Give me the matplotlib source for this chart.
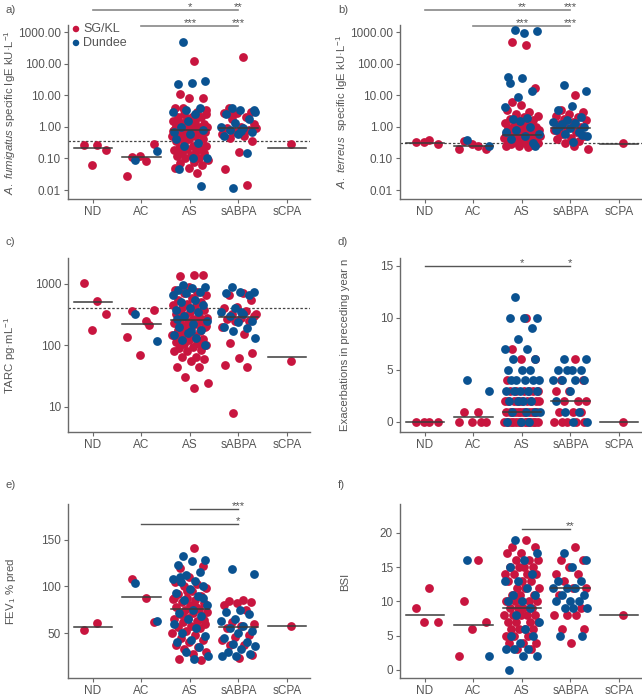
import matplotlib
matplotlib.use("Agg")
import matplotlib.pyplot as plt
import numpy as np

plt.rcParams['font.family'] = ['Liberation Sans', 'DejaVu Sans']
plt.rcParams['mathtext.fontset'] = 'custom'
plt.rcParams['mathtext.rm'] = 'Liberation Sans'
plt.rcParams['mathtext.it'] = 'Liberation Sans:italic'

RED = '#C8153F'
BLUE = '#0A5291'
TXT = '#555555'
AX = '#6a6a6a'
FS = 8.2

categories = ['ND', 'AC', 'AS', 'sABPA', 'sCPA']

# ---- a) A. fumigatus specific IgE ----
a_red = [
    [0.26, 0.26, 0.18, 0.06],
    [0.085, 0.11, 0.28, 0.12, 0.027],
    [120, 11, 8, 8, 4, 3, 2.5, 2.5, 2, 2, 2, 1.8, 1.5, 1.5, 1.3, 1.2, 1.2, 1.1, 1, 1, 1, 0.9, 0.9,
     0.8, 0.8, 0.8, 0.7, 0.7, 0.7, 0.6, 0.6, 0.6, 0.5, 0.5, 0.5, 0.45, 0.4, 0.4, 0.35, 0.3, 0.3,
     0.25, 0.25, 0.22, 0.2, 0.2, 0.18, 0.17, 0.15, 0.15, 0.13, 0.12, 0.1, 0.1, 0.09, 0.08, 0.07,
     0.06, 0.05, 0.05, 0.035, 4, 3.5, 1.7, 1.4, 0.95, 0.85, 0.75, 0.65, 0.55],
    [160, 4, 3, 2.8, 2.7, 2, 1.8, 1.2, 1, 0.9, 0.8, 0.7, 0.6, 0.5, 0.45, 0.35, 0.16, 0.045, 0.014, 2.5, 0.95],
    [0.28],
]
a_blue = [
    [],
    [0.09, 0.17],
    [500, 28, 25, 23, 4, 3.5, 3, 2.5, 1, 0.8, 0.6, 0.4, 0.3, 0.25, 0.1, 0.1, 0.045, 0.013, 1.5, 0.7],
    [4, 3.5, 3.5, 2.5, 1.8, 1.3, 1, 0.9, 0.8, 0.7, 0.6, 0.5, 0.15, 0.012, 3, 0.75],
    [],
]
a_median = [0.22, 0.11, 0.8, 0.9, 0.22]

# ---- b) A. terreus specific IgE ----
b_red = [
    [0.38, 0.33, 0.28, 0.33],
    [0.25, 0.36, 0.2, 0.28, 0.2],
    [400, 500, 17, 5, 3.5, 3, 2.5, 2.2, 2, 1.8, 1.6, 1.5, 1.3, 1.2, 1.1, 1, 1, 0.95, 0.9, 0.85, 0.8,
     0.75, 0.7, 0.7, 0.65, 0.6, 0.6, 0.55, 0.55, 0.5, 0.5, 0.48, 0.45, 0.45, 0.42, 0.4, 0.4, 0.38,
     0.35, 0.35, 0.33, 0.3, 0.3, 0.28, 0.27, 0.25, 0.25, 0.23, 0.6, 0.7, 0.8, 0.9, 1.0, 1.4, 0.5, 0.4, 6],
    [10, 3.5, 3, 2.5, 2.2, 2, 1.8, 1.6, 1.4, 1.2, 1, 0.9, 0.8, 0.7, 0.6, 0.5, 0.45, 0.4, 0.35, 0.3, 0.2, 0.25, 0.65],
    [0.31],
]
b_blue = [
    [],
    [0.38, 0.25],
    [1200, 1100, 950, 25, 14, 9, 4.3, 1.9, 1.8, 0.24, 35, 38, 1, 0.8, 0.6, 0.5, 0.4, 0.3, 1.5, 0.7],
    [22, 14, 4.5, 3.5, 2, 1.6, 1.4, 1.3, 1.2, 1, 0.9, 0.8, 0.7, 0.6, 0.5, 0.33, 1.1, 0.55],
    [],
]
b_median = [0.31, 0.24, 0.55, 0.9, 0.28]

# ---- c) TARC ----
c_red = [
    [530, 1020, 330, 180],
    [250, 360, 380, 70, 135, 215],
    [1400, 1350, 1380, 900, 800, 750, 700, 650, 600, 550, 500, 480, 450, 420, 400, 380, 350, 330,
     300, 300, 280, 270, 260, 250, 240, 230, 220, 210, 200, 190, 180, 170, 160, 150, 140, 130, 125,
     120, 115, 110, 105, 100, 95, 90, 85, 80, 80, 65, 65, 60, 55, 45, 45, 30, 24, 20, 350, 260, 180,
     140, 110, 160, 210],
    [700, 650, 550, 420, 400, 360, 330, 300, 280, 270, 250, 250, 200, 155, 110, 75, 62, 47, 45, 8, 320],
    [55],
]
c_blue = [
    [],
    [330, 118],
    [950, 900, 850, 800, 750, 700, 650, 550, 500, 450, 400, 380, 350, 300, 250, 220, 200, 180, 160,
     150, 130, 120, 100, 170, 270],
    [900, 750, 740, 700, 650, 400, 350, 330, 300, 250, 240, 200, 190, 170, 130, 350],
    [],
]
c_median = [500, 220, 260, 285, 65]

# ---- d) Exacerbations ----
d_red = [
    [0, 0, 0, 0],
    [1, 1, 0, 0, 0, 0],
    [10, 7, 6, 6, 4, 3, 3, 3, 3, 3, 3, 2, 2, 2, 2, 2, 2, 2, 2, 2, 2, 1, 1, 1, 1, 1, 1, 1, 1, 1, 1,
     1, 1, 0, 0, 0, 0, 0, 0, 0, 0, 0, 0, 0, 0, 0],
    [6, 4, 4, 3, 3, 2, 2, 2, 1, 1, 1, 0, 0, 0, 0, 0],
    [0],
]
d_blue = [
    [],
    [4, 3],
    [12, 10, 10, 10, 9, 8, 7, 7, 6, 6, 5, 5, 5, 4, 4, 4, 4, 4, 3, 3, 3, 3, 3, 2, 2, 2, 2, 1, 1, 1,
     1, 0, 0, 0],
    [6, 6, 5, 5, 5, 5, 4, 4, 4, 4, 3, 2, 1, 1, 0, 0],
    [],
]
d_median = [0, 0.5, 1, 2, 0]

# ---- e) FEV1 % pred ----
e_red = [
    [61, 53],
    [87, 108, 62],
    [141, 120, 122, 110, 105, 102, 100, 98, 95, 92, 90, 88, 86, 85, 83, 82, 80, 78, 76, 75, 73, 72,
     70, 68, 66, 65, 63, 62, 60, 58, 56, 55, 52, 50, 48, 45, 43, 40, 37, 35, 33, 30, 28, 22, 21,
     95, 88, 78, 70, 64],
    [85, 84, 83, 82, 80, 75, 62, 60, 58, 55, 48, 46, 43, 37, 37, 27, 23],
    [58],
]
e_blue = [
    [],
    [104, 63],
    [132, 128, 127, 123, 115, 112, 108, 106, 105, 100, 97, 93, 90, 85, 80, 75, 72, 68, 65, 60, 55,
     50, 47, 43, 40, 35, 30, 25, 22, 110, 88],
    [118, 113, 75, 73, 70, 65, 63, 58, 55, 52, 50, 45, 40, 38, 36, 33, 30, 28, 26, 25],
    [],
]
e_median = [57, 89, 76, 57, 58]

# ---- f) BSI ----
f_red = [
    [12, 9, 7, 7],
    [16, 10, 7, 6, 2],
    [19, 18, 18, 17, 17, 16, 16, 16, 15, 15, 15, 15, 14, 14, 14, 14, 13, 13, 13, 12, 12, 12, 11, 11,
     11, 10, 10, 10, 10, 9, 9, 9, 9, 8, 8, 8, 8, 8, 7, 7, 7, 7, 6, 6, 6, 6, 5, 5, 5, 4, 4, 4, 3, 3],
    [18, 16, 16, 15, 14, 14, 13, 12, 12, 11, 9, 8, 8, 8, 6, 6, 4],
    [8],
]
f_blue = [
    [],
    [16, 2],
    [19, 17, 16, 15, 14, 13, 13, 12, 11, 11, 10, 10, 9, 8, 7, 6, 5, 5, 4, 3, 3, 3, 2, 2, 0],
    [17, 16, 15, 13, 13, 12, 12, 12, 11, 11, 10, 10, 10, 9, 9, 9, 5, 5],
    [],
]
f_median = [8, 6.5, 9, 12, 8]

W, H = 642, 696
fig = plt.figure(figsize=(W / 100, H / 100), dpi=100)


def add_ax(left_px, top_px, bottom_px, right_px):
    return fig.add_axes([left_px / W, 1 - bottom_px / H, (right_px - left_px) / W, (bottom_px - top_px) / H])


def offsets(n, phase, width=0.74):
    return np.array([(((i + phase) * 0.6180339887) % 1.0 - 0.5) * width for i in range(n)])


def panel(ax, reds, blues, medians, ylim, yticks, yticklabels, ylabel, log=False, ref=None,
          label_y=0.5, bars=()):
    if log:
        ax.set_yscale('log')
    for gi in range(len(categories)):
        r = np.array(reds[gi], float)
        b = np.array(blues[gi], float)
        if len(r):
            ax.scatter(gi + offsets(len(r), 1), r, s=40, color=RED, linewidths=0, zorder=3, clip_on=False)
        if len(b):
            ax.scatter(gi + offsets(len(b), 0.5), b, s=40, color=BLUE, linewidths=0, zorder=3, clip_on=False)
        ax.plot([gi - 0.4, gi + 0.4], [medians[gi]] * 2, color='#3a3a3a', lw=1.1, zorder=4)
    if ref is not None:
        ax.axhline(ref, color='#444444', lw=0.9, ls=(0, (2, 1.5)), zorder=2)
    ax.set_xlim(-0.515, 4.475)
    ax.set_ylim(*ylim)
    ax.set_xticks(range(len(categories)))
    ax.set_xticklabels(categories)
    ax.set_yticks(yticks)
    ax.set_yticklabels(yticklabels)
    ax.minorticks_off()
    for s in ['top', 'right']:
        ax.spines[s].set_visible(False)
    for s in ['left', 'bottom']:
        ax.spines[s].set_color(AX)
        ax.spines[s].set_linewidth(1.0)
    ax.tick_params(colors=AX, labelcolor=TXT, labelsize=FS + 0.3, length=3, width=0.8, pad=2)
    ax.set_ylabel(ylabel, color=TXT, fontsize=FS)
    ax.yaxis.set_label_coords(-0.205, label_y)
    for (x0, x1, yb, stars, frac) in bars:
        if frac:
            xf0 = (x0 + 0.515) / 4.99
            xf1 = (x1 + 0.515) / 4.99
            ax.plot([xf0, xf1], [yb, yb], color='#888888', lw=1.2, transform=ax.transAxes, clip_on=False)
            for (sx, st) in stars:
                ax.text((sx + 0.515) / 4.99, yb, st, transform=ax.transAxes, ha='center',
                        va='baseline', fontsize=FS, color=TXT)
        else:
            ax.plot([x0, x1], [yb, yb], color='#555555', lw=1.0, clip_on=False)
            for (sx, st) in stars:
                ax.text(sx, yb, st, ha='center', va='baseline', fontsize=FS, color=TXT)


log_ticks = [1000, 100, 10, 1, 0.1, 0.01]
log_labels = ['1000.00', '100.00', '10.00', '1.00', '0.10', '0.01']

ax_a = add_ax(68, 25, 199, 310)
panel(ax_a, a_red, a_blue, a_median, (0.0052, 1700), log_ticks, log_labels,
      r'$\mathit{A.\ fumigatus}$ specific IgE kU·L$^{-1}$', log=True, ref=0.35,
      bars=[(0, 3, 1.086, [(2, '*'), (3, '**')], True), (1, 3, 0.996, [(2, '***'), (3, '***')], True)])
ax_a.scatter([0.033, 0.033], [0.977, 0.897], s=22, color=[RED, BLUE], linewidths=0,
             transform=ax_a.transAxes, clip_on=False, zorder=5)
ax_a.text(0.062, 0.977, 'SG/KL', transform=ax_a.transAxes, va='center', fontsize=FS + 0.8, color=TXT)
ax_a.text(0.062, 0.897, 'Dundee', transform=ax_a.transAxes, va='center', fontsize=FS + 0.8, color=TXT)

ax_b = add_ax(400, 25, 199, 642)
panel(ax_b, b_red, b_blue, b_median, (0.0052, 1700), log_ticks, log_labels,
      r'$\mathit{A.\ terreus}$  specific IgE kU·L$^{-1}$', log=True, ref=0.32,
      bars=[(0, 3, 1.086, [(2, '**'), (3, '***')], True), (1, 3, 0.996, [(2, '***'), (3, '***')], True)])

ax_c = add_ax(68, 258, 432, 310)
panel(ax_c, c_red, c_blue, c_median, (3.87, 2650), [1000, 100, 10], ['1000', '100', '10'],
      r'TARC pg·mL$^{-1}$', log=True, ref=400, label_y=0.44)

ax_d = add_ax(400, 258, 432, 642)
panel(ax_d, d_red, d_blue, d_median, (-0.96, 15.74), [0, 5, 10, 15], ['0', '5', '10', '15'],
      'Exacerbations in preceding year n',
      bars=[(0, 3, 15, [(2, '*'), (3, '*')], False)])

ax_e = add_ax(68, 504, 678, 310)
panel(ax_e, e_red, e_blue, e_median, (2, 188), [50, 100, 150], ['50', '100', '150'],
      r'FEV$_1$ % pred',
      bars=[(2, 3, 183, [(3, '***')], False), (1, 3, 167, [(3, '*')], False)])

ax_f = add_ax(400, 504, 678, 642)
panel(ax_f, f_red, f_blue, f_median, (-1.17, 24.2), [0, 5, 10, 15, 20], ['0', '5', '10', '15', '20'],
      'BSI', label_y=0.55,
      bars=[(2, 3, 20.5, [(3, '**')], False)])

for lab, x, y in [('a)', 5, 10), ('b)', 338, 10), ('c)', 5, 242), ('d)', 338, 242), ('e)', 5, 485), ('f)', 338, 485)]:
    fig.text(x / W, 1 - y / H, lab, fontsize=FS, color=TXT, va='center', ha='left')

fig.savefig('out.png', dpi=100)
